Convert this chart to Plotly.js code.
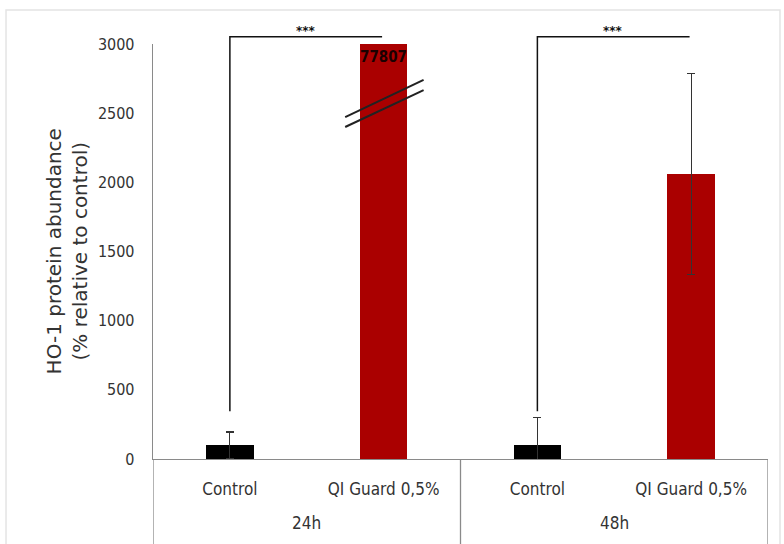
<!DOCTYPE html>
<html>
<head>
<meta charset="utf-8">
<script src="https://cdn.plot.ly/plotly-3.0.1.min.js"></script>
<style>
  html, body { margin: 0; padding: 0; background: #fff; }
  #chart { width: 784px; height: 544px; }
</style>
</head>
<body>
<div id="chart"></div>
<script>
// Time points and treatments
const timePoints = ['24h', '48h'];
const treatments = ['Control', 'QI Guard 0,5%'];

// HO-1 abundance, % relative to control (mean and SD)
const controlMean = [100, 100];
const controlSD = [95, 198];
const qiMean = [77807, 2060];
const qiSD = [null, 725];

// Significance labels per time point (Control vs QI Guard)
const significance = ['***', '***'];

// y-axis ticks
const yTicks = [0, 500, 1000, 1500, 2000, 2500, 3000];

const Y_MAX = 3000;
const AXIS_GREY = '#8a8a8a';
const tickFont = 'DejaVu Sans Condensed, DejaVu Sans, sans-serif';

// bar slot for treatment t within time point g
const slot = (g, t) => g * treatments.length + t;

const xControl = timePoints.map((_, g) => slot(g, 0));
const xQI = timePoints.map((_, g) => slot(g, 1));
const tickVals = [];
const tickText = [];
timePoints.forEach((_, g) => treatments.forEach((name, t) => {
  tickVals.push(slot(g, t));
  tickText.push(name);
}));

const errStyle = { type: 'data', symmetric: true, color: '#333333', thickness: 1.2, width: 4 };

const traces = [
  {
    type: 'bar', name: treatments[0],
    x: xControl, y: controlMean,
    width: 0.31,
    marker: { color: '#000000' },
    error_y: Object.assign({ array: controlSD }, errStyle),
    cliponaxis: true
  },
  {
    type: 'bar', name: treatments[1],
    x: xQI, y: qiMean,
    width: 0.31,
    marker: { color: '#aa0000' },
    error_y: Object.assign({ array: qiSD }, errStyle),
    cliponaxis: true
  }
];

const shapes = [];
const annotations = [];

// outer frame of the figure
shapes.push({
  type: 'rect', xref: 'paper', yref: 'paper',
  x0: -0.239, x1: 1.0195, y0: -0.4, y1: 1.082,
  line: { color: '#e4e4e4', width: 1.5 }, layer: 'below'
});

// group dividers under the category axis
const nSlots = timePoints.length * treatments.length;
for (let g = 0; g <= timePoints.length; g++) {
  const xb = g * treatments.length - 0.5;
  shapes.push({
    type: 'line', xref: 'x', yref: 'paper',
    x0: xb, x1: xb, y0: 0, y1: -0.22,
    line: { color: AXIS_GREY, width: 1.3 }
  });
}

// group labels
timePoints.forEach((label, g) => {
  annotations.push({
    text: label, xref: 'x', yref: 'paper',
    x: slot(g, 0) + (treatments.length - 1) / 2, y: -0.155,
    xanchor: 'center', yanchor: 'middle', showarrow: false,
    font: { family: tickFont, size: 17, color: '#333' }
  });
});

// significance brackets: from just above the control bar, across to the treated bar
const bracketBottom = 345 / Y_MAX;
const bracketTop = 3052 / Y_MAX;
timePoints.forEach((_, g) => {
  const xa = slot(g, 0);
  const xb = slot(g, 1) - 0.01;
  shapes.push({
    type: 'path', xref: 'x', yref: 'paper',
    path: `M ${xa} ${bracketBottom} L ${xa} ${bracketTop} L ${xb} ${bracketTop}`,
    line: { color: '#111', width: 1.5 }
  });
  annotations.push({
    text: significance[g], xref: 'x', yref: 'paper',
    x: (xa + xb) / 2, y: bracketTop,
    xanchor: 'center', yanchor: 'bottom', yshift: -3, showarrow: false,
    font: { family: 'DejaVu Sans, sans-serif', size: 12, color: '#111', weight: 'bold' }
  });
});

// value label for the off-scale bar
annotations.push({
  text: String(qiMean[0]), xref: 'x', yref: 'y',
  x: xQI[0], y: Y_MAX,
  xanchor: 'center', yanchor: 'top', yshift: -2, showarrow: false,
  font: { family: tickFont, size: 15, color: '#1a0000', weight: 'bold' }
});

// axis-break marks across the off-scale bar
[[2472, 2740], [2400, 2667]].forEach(([ya, yb]) => {
  shapes.push({
    type: 'line', xref: 'x', yref: 'y',
    x0: xQI[0] - 0.25, x1: xQI[0] + 0.26, y0: ya, y1: yb,
    line: { color: '#222', width: 2 }
  });
});

// y-axis title
annotations.push({
  text: 'HO-1 protein abundance<br>(% relative to control)',
  xref: 'paper', yref: 'paper', x: -0.14, y: 0.5,
  xanchor: 'center', yanchor: 'middle', textangle: -90, showarrow: false,
  font: { family: 'DejaVu Sans, sans-serif', size: 20, color: '#333' }
});

const layout = {
  width: 784, height: 544,
  margin: { l: 153, r: 16, t: 44, b: 85 },
  paper_bgcolor: '#ffffff',
  plot_bgcolor: '#ffffff',
  showlegend: false,
  bargap: 0,
  xaxis: {
    range: [-0.5, nSlots - 0.5],
    tickmode: 'array', tickvals: tickVals, ticktext: tickText,
    ticks: '', showgrid: false, zeroline: false,
    showline: true, linecolor: AXIS_GREY, linewidth: 1.3,
    ticklabelstandoff: 14,
    tickfont: { family: tickFont, size: 17, color: '#333' },
    fixedrange: true
  },
  yaxis: {
    range: [0, Y_MAX],
    tickmode: 'array', tickvals: yTicks,
    ticks: '', showgrid: false, zeroline: false,
    showline: true, linecolor: AXIS_GREY, linewidth: 1.3,
    ticklabelstandoff: 14,
    tickfont: { family: tickFont, size: 16, color: '#333' },
    fixedrange: true
  },
  shapes: shapes,
  annotations: annotations
};

Plotly.newPlot('chart', traces, layout, { displayModeBar: false, staticPlot: true });
</script>
</body>
</html>
